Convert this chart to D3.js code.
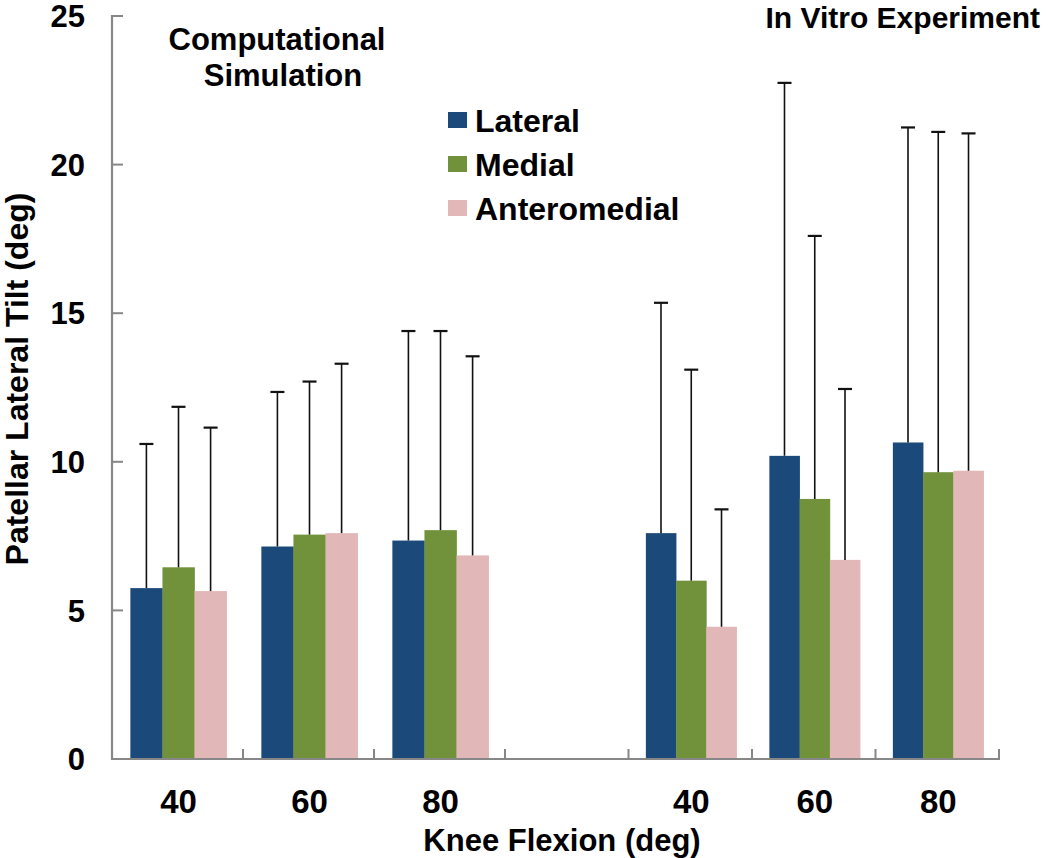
<!DOCTYPE html>
<html>
<head>
<meta charset="utf-8">
<script src="https://cdn.jsdelivr.net/npm/d3@7"></script>
<style>
  html, body { margin: 0; padding: 0; background: #fff; }
  svg { display: block; }
  text { font-family: "Liberation Sans", Arial, sans-serif; font-weight: bold; fill: #000; }
</style>
</head>
<body>
<svg id="chart" width="1050" height="858"></svg>
<script>
// ---- data ----
const categories = ["40", "60", "80", "", "40", "60", "80"];
const seriesNames = ["Lateral", "Medial", "Anteromedial"];
const seriesColors = ["#1B4A7A", "#71913A", "#E2B7B7"];
const lateral      = [5.75, 7.15, 7.35, null, 7.6, 10.2, 10.65];
const medial       = [6.45, 7.55, 7.7, null, 6.0, 8.75, 9.65];
const anteromedial = [5.65, 7.6, 6.85, null, 4.45, 6.7, 9.7];
const lateralSD      = [4.85, 5.2, 7.05, null, 7.75, 12.55, 10.6];
const medialSD       = [5.4, 5.15, 6.7, null, 7.1, 8.85, 11.45];
const anteromedialSD = [5.5, 5.7, 6.7, null, 3.95, 5.75, 11.35];
const yTicks = [0, 5, 10, 15, 20, 25];
const groupTitles = ["Computational", "Simulation", "In Vitro Experiment"];
const xTitle = "Knee Flexion (deg)";
const yTitle = "Patellar Lateral Tilt (deg)";

const values = [lateral, medial, anteromedial];
const sds = [lateralSD, medialSD, anteromedialSD];

// ---- layout ----
const svg = d3.select("#chart");
const y = d3.scaleLinear().domain([0, 25]).range([759, 16]);
// category index -> x position (category boundaries)
const x = d3.scaleLinear().domain([0, 3, 7]).range([112, 505, 999]);
const axisColor = "#878787";

// y axis line
svg.append("line").attr("x1", 112).attr("x2", 112).attr("y1", y(25) - 1).attr("y2", y(0) + 1)
  .attr("stroke", axisColor).attr("stroke-width", 2.2);
// y ticks
svg.selectAll(".ytick").data(yTicks).enter().append("line")
  .attr("x1", 112).attr("x2", 123).attr("y1", d => y(d)).attr("y2", d => y(d))
  .attr("stroke", axisColor).attr("stroke-width", 2);
svg.selectAll(".ylab").data(yTicks).enter().append("text")
  .attr("x", 85).attr("y", d => y(d)).attr("dy", "0.36em")
  .attr("text-anchor", "end").attr("font-size", 31).text(d => d);

// x axis line
svg.append("line").attr("x1", 111).attr("x2", x(7) + 1).attr("y1", y(0)).attr("y2", y(0))
  .attr("stroke", axisColor).attr("stroke-width", 2.2);
// x ticks (category boundaries)
const boundaries = d3.range(1, categories.length + 1);
svg.selectAll(".xtick").data(boundaries).enter().append("line")
  .attr("x1", d => x(d)).attr("x2", d => x(d)).attr("y1", y(0)).attr("y2", y(0) - 10)
  .attr("stroke", axisColor).attr("stroke-width", 2);

// x labels
svg.selectAll(".xlab").data(categories).enter().append("text")
  .attr("x", (d, i) => (x(i) + x(i + 1)) / 2 + 1).attr("y", 813)
  .attr("text-anchor", "middle").attr("font-size", 33).text(d => d);

// bars
const barData = [];
categories.forEach((c, i) => {
  const x0 = x(i), x1 = x(i + 1);
  const bw = x1 - x0;
  const gw = bw * 0.735;
  const start = (x0 + x1) / 2 + 1 - gw / 2;
  const w = gw / 3;
  seriesNames.forEach((s, k) => {
    const v = values[k][i];
    if (v == null) return;
    barData.push({ x: start + k * w, w: w, v: v, sd: sds[k][i], color: seriesColors[k] });
  });
});
svg.selectAll(".bar").data(barData).enter().append("rect")
  .attr("x", d => d.x).attr("width", d => d.w + 0.3)
  .attr("y", d => y(d.v)).attr("height", d => y(0) - y(d.v) - 1)
  .attr("fill", d => d.color);

// error bars (upper only)
svg.selectAll(".err").data(barData).enter().append("line")
  .attr("x1", d => d.x + d.w / 2).attr("x2", d => d.x + d.w / 2)
  .attr("y1", d => y(d.v)).attr("y2", d => y(d.v + d.sd))
  .attr("stroke", "#111").attr("stroke-width", 1.6);
svg.selectAll(".cap").data(barData).enter().append("line")
  .attr("x1", d => d.x + d.w / 2 - 7).attr("x2", d => d.x + d.w / 2 + 7)
  .attr("y1", d => y(d.v + d.sd)).attr("y2", d => y(d.v + d.sd))
  .attr("stroke", "#111").attr("stroke-width", 2.2);

// legend
const lg = svg.append("g");
seriesNames.forEach((s, k) => {
  const cy = 120 + k * 44;
  lg.append("rect").attr("x", 448).attr("y", cy - 8).attr("width", 19).attr("height", 16)
    .attr("fill", seriesColors[k]);
  lg.append("text").attr("x", 475).attr("y", cy).attr("dy", "0.36em")
    .attr("font-size", 32).text(s);
});

// group titles
svg.append("text").attr("x", 277).attr("y", 50).attr("text-anchor", "middle")
  .attr("font-size", 31).text(groupTitles[0]);
svg.append("text").attr("x", 283).attr("y", 86).attr("text-anchor", "middle")
  .attr("font-size", 31).text(groupTitles[1]);
svg.append("text").attr("x", 1040).attr("y", 28).attr("text-anchor", "end")
  .attr("font-size", 30).text(groupTitles[2]);

// axis titles
svg.append("text").attr("x", 562).attr("y", 851).attr("text-anchor", "middle")
  .attr("font-size", 31).text(xTitle);
svg.append("text").attr("transform", "translate(28,379) rotate(-90)")
  .attr("text-anchor", "middle").attr("font-size", 32).text(yTitle);
</script>
</body>
</html>
